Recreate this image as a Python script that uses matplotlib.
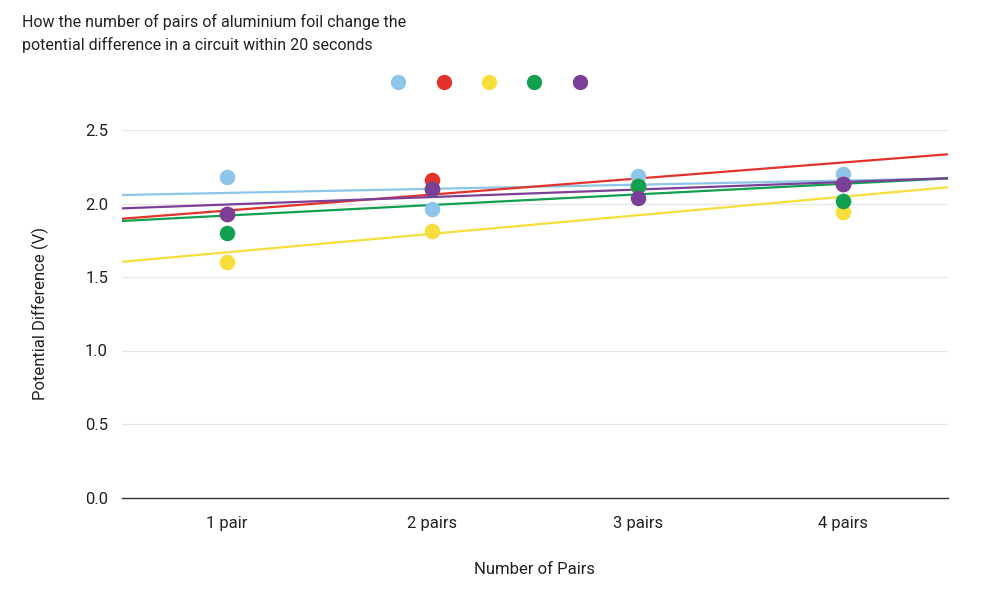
import matplotlib
matplotlib.use("Agg")
import matplotlib.pyplot as plt
from matplotlib.lines import Line2D
import numpy as np

# ---- data ----
categories = ["1 pair", "2 pairs", "3 pairs", "4 pairs"]
series_names = ["Trial 1", "Trial 2", "Trial 3", "Trial 4", "Trial 5"]
series_colors = ["#8EC5EA", "#E3322B", "#F8DE3A", "#10A04F", "#7C3F98"]

trial1 = [2.18, 1.96, 2.19, 2.20]
trial2 = [1.93, 2.16, 2.12, 2.13]
trial3 = [1.60, 1.81, 2.12, 1.94]
trial4 = [1.80, 2.10, 2.12, 2.02]
trial5 = [1.93, 2.10, 2.04, 2.13]
series_values = [trial1, trial2, trial3, trial4, trial5]

# linear trendline coefficients (x = category index 1..4)
trend_slope = [0.028, 0.109, 0.126, 0.072, 0.051]
trend_intercept = [2.044, 1.843, 1.542, 1.846, 1.942]

y_ticks = [0.0, 0.5, 1.0, 1.5, 2.0, 2.5]
title = "How the number of pairs of aluminium foil change the\npotential difference in a circuit within 20 seconds"
x_label = "Number of Pairs"
y_label = "Potential Difference (V)"

# ---- style ----
plt.rcParams["font.family"] = ["Roboto", "DejaVu Sans"]
W, H = 993, 598
fig = plt.figure(figsize=(W / 100, H / 100), dpi=100)
ax = fig.add_axes([122 / W, 1 - 497.5 / H, (948 - 122) / W, (497.5 - 130) / H])

x = np.arange(1, len(categories) + 1)
xlim = (1 - (227 - 122) / 205.3, 4 + (948 - 843) / 205.3)

for i, (vals, col) in enumerate(zip(series_values, series_colors)):
    xs = np.array(xlim)
    ax.plot(xs, trend_intercept[i] + trend_slope[i] * xs, color=col, lw=1.6,
            zorder=2 + i * 0.01, solid_capstyle="butt")
for i, (vals, col) in enumerate(zip(series_values, series_colors)):
    ax.scatter(x, vals, s=125, color=col, zorder=3 + i * 0.01, linewidths=0,
               clip_on=False, label=series_names[i])

ax.set_xlim(*xlim)
ax.set_ylim(0, 2.5)
ax.set_yticks(y_ticks)
ax.set_yticklabels([f"{v:.1f}" for v in y_ticks])
ax.set_xticks(x)
ax.set_xticklabels(categories)
ax.tick_params(axis="both", length=0, labelsize=12, colors="#222222")
ax.tick_params(axis="y", pad=10)
ax.tick_params(axis="x", pad=13)
ax.grid(axis="y", color="#e6e6e6", lw=0.9, zorder=0)
for s in ["top", "right", "left"]:
    ax.spines[s].set_visible(False)
ax.spines["bottom"].set_color("#333333")
ax.spines["bottom"].set_linewidth(1.0)
ax.set_axisbelow(True)

ax.set_xlabel(x_label, fontsize=12, labelpad=23, color="#222222")
ax.set_ylabel(y_label, fontsize=12, labelpad=26, color="#222222")

fig.text(22 / W, 1 - 14 / H, title, fontsize=11.5, va="top", ha="left",
         color="#222222", linespacing=1.5)

handles = [Line2D([], [], marker="o", ls="none", markersize=11, color=c,
                  markeredgewidth=0) for c in series_colors]
fig.legend(handles, [""] * len(handles), ncol=5, loc="center",
           bbox_to_anchor=(489 / W, 1 - 84 / H), frameon=False,
           handlelength=1.0, handletextpad=0.0, columnspacing=1.62, fontsize=12.5)

fig.savefig("out.png", dpi=100)
